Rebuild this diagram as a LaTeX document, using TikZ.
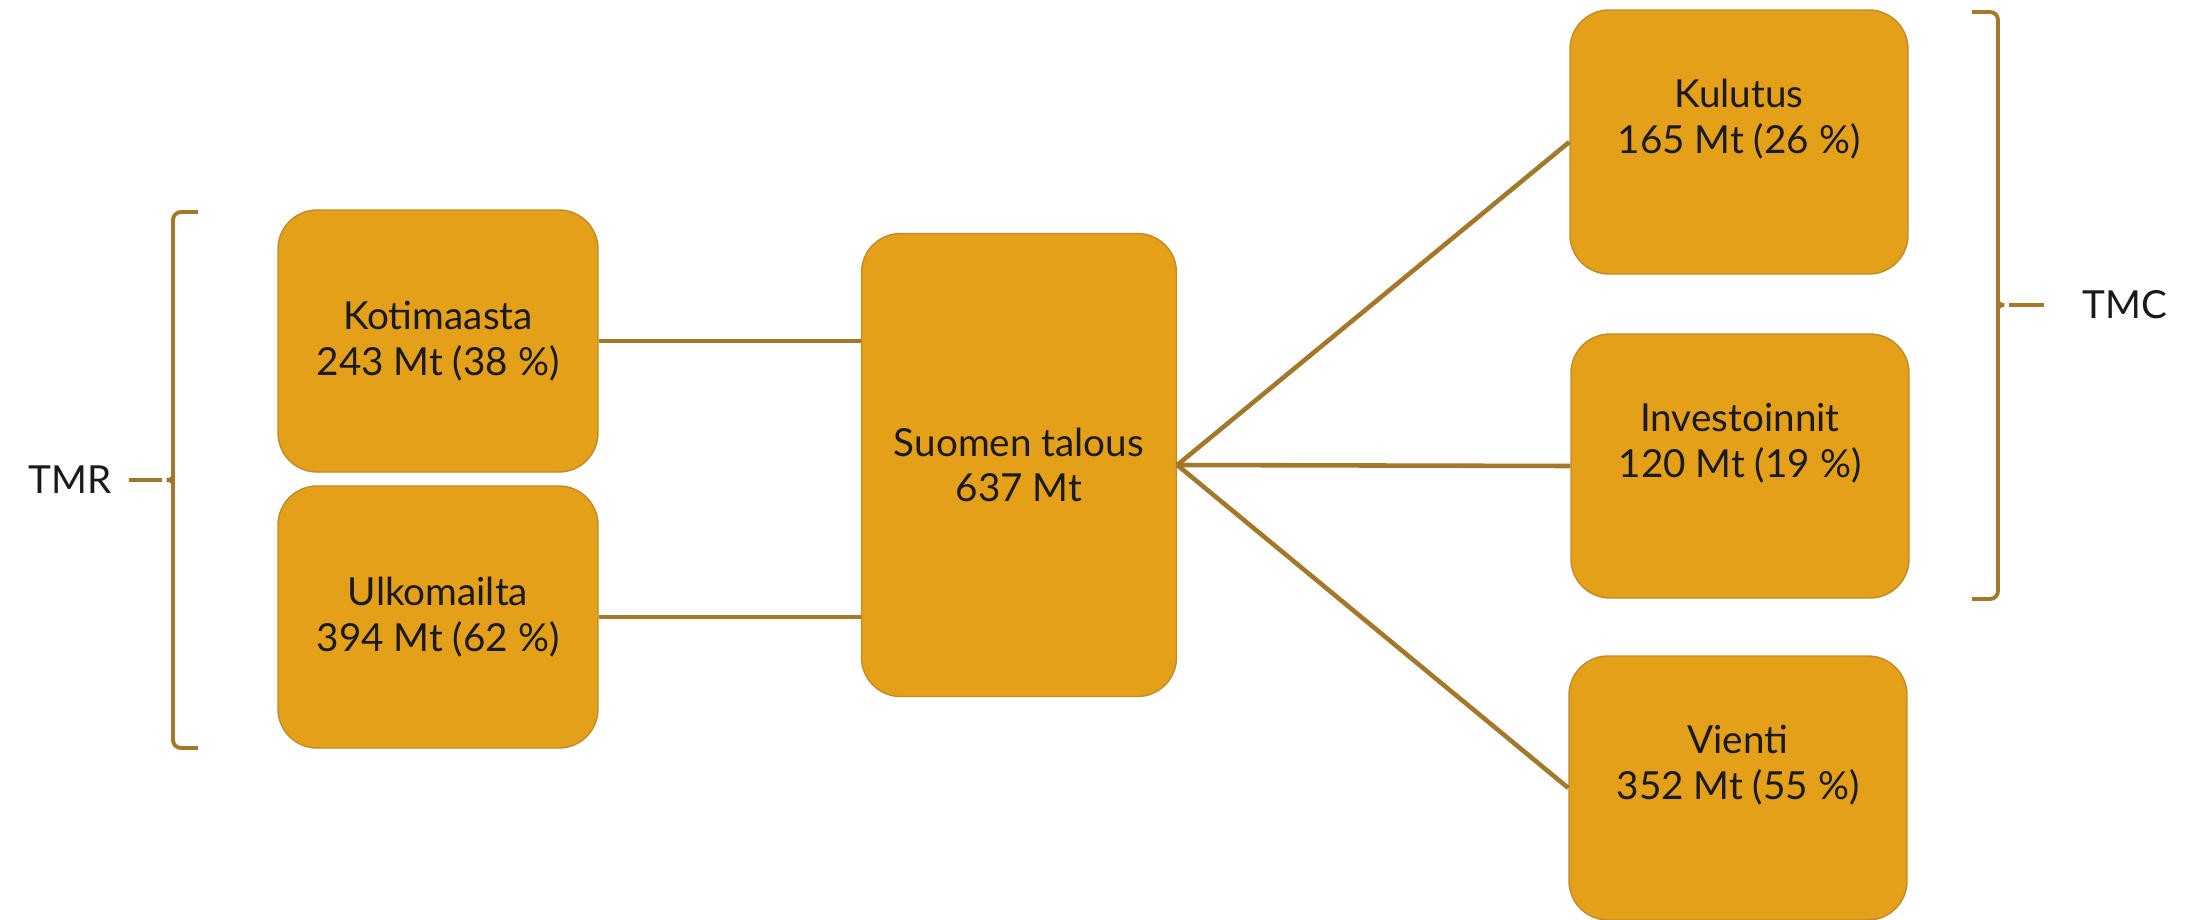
\documentclass[tikz,border=0pt]{standalone}
\usepackage{fontspec}
\setmainfont{Lato}
\usepackage{tikz}
\definecolor{boxfill}{RGB}{227,160,24}
\definecolor{boxedge}{RGB}{190,140,42}
\definecolor{linkcol}{RGB}{164,120,42}
\definecolor{inkcol}{RGB}{26,26,26}
\newcommand{\boxfont}{\fontsize{11}{13}\selectfont}

\begin{document}
\begin{tikzpicture}[x=0.1mm, y=-0.1mm,
    flowbox/.style={draw=boxedge, line width=0.4pt, fill=boxfill, rounded corners=3.9mm,
        text=inkcol, align=center, font=\boxfont},
    inbox/.style={flowbox, minimum width=32mm, minimum height=26.2mm},
    outbox/.style={flowbox, minimum width=33.8mm, minimum height=26.4mm},
    boxtext/.style={text=inkcol, align=center, font=\boxfont, yshift=2.3mm},
    link/.style={draw=linkcol, line width=1.3pt},
    brace/.style={draw=linkcol, line width=1.1pt},
    sidelabel/.style={text=inkcol, font=\boxfont, inner xsep=1.7mm}]
    \useasboundingbox (0,0) rectangle (2208,920);

    % sources
    \node[inbox] (kotimaasta) at (438,341) {Kotimaasta\\243 Mt (38 \%)};
    \node[inbox] (ulkomailta) at (438,617) {Ulkomailta\\394 Mt (62 \%)};

    % economy
    \node[flowbox, minimum width=31.5mm, minimum height=46.3mm] (suomen) at (1019,465) {Suomen talous\\637 Mt};

    % uses
    \node[outbox, label={[boxtext]center:Kulutus\\165 Mt (26 \%)}] (kulutus) at (1739,142) {};
    \node[outbox, label={[boxtext]center:Investoinnit\\120 Mt (19 \%)}] (investoinnit) at (1740,466) {};
    \node[outbox, label={[boxtext]center:Vienti\\352 Mt (55 \%)}] (vienti) at (1738,788) {};

    \draw[link] (kotimaasta.east) -- (kotimaasta.east -| suomen.west);
    \draw[link] (ulkomailta.east) -- (ulkomailta.east -| suomen.west);
    \draw[link] (suomen.east) -- (kulutus.west);
    \draw[link] (suomen.east) -- (investoinnit.west);
    \draw[link] (suomen.east) -- (vienti.west);

    % brackets
    \coordinate (tmrtip) at (162,480);
    \draw[brace, rounded corners=0.8mm] (198,212) -- (173,212) -- (173,470)
        .. controls (173,477) and (169,480) .. (tmrtip)
        .. controls (169,480) and (173,483) .. (173,490) -- (173,748) -- (198,748);
    \node[sidelabel] (tmr) at (70,480) {TMR};
    \draw[brace] (tmr.east) -- (tmrtip);

    \coordinate (tmctip) at (2009,305);
    \draw[brace, rounded corners=0.8mm] (1972,12) -- (1998,12) -- (1998,295)
        .. controls (1998,302) and (2002,305) .. (tmctip)
        .. controls (2002,305) and (1998,308) .. (1998,315) -- (1998,599) -- (1972,599);
    \node[sidelabel, inner xsep=3.8mm] (tmc) at (2125,305) {TMC};
    \draw[brace] (tmctip) -- (tmc.west);
\end{tikzpicture}
\end{document}
